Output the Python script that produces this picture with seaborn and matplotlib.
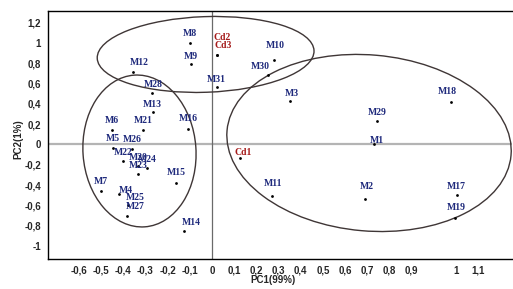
import numpy as np
import pandas as pd
import matplotlib.pyplot as plt
import seaborn as sns
from matplotlib.patches import Ellipse
from matplotlib.transforms import Affine2D

# sample scores
samples = ["M1", "M2", "M3", "M4", "M5", "M6", "M7", "M8", "M9", "M10",
           "M11", "M12", "M13", "M14", "M15", "M16", "M17", "M18", "M19", "M20",
           "M21", "M22", "M23", "M24", "M25", "M26", "M27", "M28", "M29", "M30",
           "M31", "Cd1", "Cd2", "Cd3"]
pc1 = [0.731, 0.689, 0.353, -0.418, -0.448, -0.452, -0.499, -0.099, -0.097, 0.279,
       0.272, -0.354, -0.267, -0.125, -0.164, -0.107, 1.102, 1.074, 1.095, -0.333,
       -0.309, -0.401, -0.332, -0.293, -0.378, -0.360, -0.384, -0.272, 0.742, 0.250,
       0.020, 0.128, 0.024, 0.024]
pc2 = [0.002, -0.537, 0.429, -0.491, -0.037, 0.143, -0.458, 1.000, 0.793, 0.837,
       -0.504, 0.714, 0.320, -0.849, -0.376, 0.156, -0.498, 0.422, -0.729, -0.212,
       0.143, -0.163, -0.291, -0.232, -0.596, -0.044, -0.701, 0.504, 0.229, 0.685,
       0.567, -0.136, 0.882, 0.882]
kind = ["M"] * 31 + ["Cd"] * 3

# group ellipses: centre (pc1, pc2), width in pc1 units, height in pc2 units, tilt in degrees
ell_x = [-0.029, -0.327, 0.707]
ell_y = [0.887, -0.064, 0.015]
ell_w = [0.977, 0.509, 1.284]
ell_h = [0.745, 1.498, 1.734]
ell_angle = [2, 4, -5]

# axis tick labels as printed on the original
xtick_pos = [-0.6, -0.5, -0.4, -0.3, -0.2, -0.1, 0, 0.1, 0.2, 0.3, 0.4, 0.5, 0.6, 0.7, 0.8, 0.9, 1.1, 1.2]
xtick_labels = ["-0,6", "-0,5", "-0,4", "-0,3", "-0,2", "-0,1", "0", "0,1", "0,2", "0,3",
                "0,4", "0,5", "0,6", "0,7", "0,8", "0,9", "1", "1,1"]
ytick_pos = [-1, -0.8, -0.6, -0.4, -0.2, 0, 0.2, 0.4, 0.6, 0.8, 1, 1.2]
ytick_labels = ["-1", "-0,8", "-0,6", "-0,4", "-0,2", "0", "0,2", "0,4", "0,6", "0,8", "1", "1,2"]

df = pd.DataFrame({"sample": samples, "pc1": pc1, "pc2": pc2, "kind": kind})

sns.set_style("white")
plt.rcParams["font.family"] = ["Liberation Sans", "DejaVu Sans"]

fig = plt.figure(figsize=(5.13, 2.89), dpi=100)
ax = fig.add_axes([48 / 513, 30 / 289, 464 / 513, 248 / 289])
xlim = (-0.739, 1.351)
ylim = (-1.128, 1.315)
ax.set_xlim(*xlim)
ax.set_ylim(*ylim)

ax.axhline(0, color="#b4b4b4", lw=1.6, zorder=1)
ax.axvline(0, color="#6a6a6a", lw=0.9, zorder=1)

# ellipses drawn in an isotropic frame so the tilt looks right on screen
bbox = ax.get_window_extent()
px_x = bbox.width / (xlim[1] - xlim[0])
px_y = bbox.height / (ylim[1] - ylim[0])
r = px_x / px_y
for cx, cy, w, h, a in zip(ell_x, ell_y, ell_w, ell_h, ell_angle):
    e = Ellipse((0, 0), w, h / r, angle=a, fill=False, ec="#3f3636", lw=1.0, zorder=2)
    e.set_transform(Affine2D().scale(1, r).translate(cx, cy) + ax.transData)
    ax.add_patch(e)

sns.scatterplot(data=df, x="pc1", y="pc2", color="black", s=4, linewidth=0, ax=ax, zorder=3)

# label nudges in pixels (dx, dy up), default sits just above the point
nudge = {"M12": (6, 10), "M4": (7, 4), "M25": (7, 7), "M27": (8, 9), "M14": (7, 8),
         "Cd2": (5, 17), "Cd3": (6, 9.5), "M30": (-7, 8), "M1": (3, 4), "Cd1": (3, 6),
         "M10": (1, 14), "M11": (1, 12), "M2": (2, 13), "M19": (1, 11), "M5": (0, 10),
         "M15": (1, 10), "M16": (0, 10), "M3": (1, 7), "M9": (0, 7), "M31": (0, 7),
         "M18": (-3, 10), "M28": (2, 9), "M13": (0, 8)}
for _, row in df.iterrows():
    dx, dy = nudge.get(row["sample"], (0, 9))
    col = "#a51a1a" if row["kind"] == "Cd" else "#1f2a7c"
    ax.annotate(row["sample"], (row["pc1"], row["pc2"]), xytext=(dx, dy),
                textcoords="offset pixels", ha="center", va="center",
                fontsize=7, fontweight="bold", color=col,
                family=["Liberation Serif", "DejaVu Serif"], zorder=4)

ax.set_xticks(xtick_pos)
ax.set_xticklabels(xtick_labels)
ax.set_yticks(ytick_pos)
ax.set_yticklabels(ytick_labels)
ax.tick_params(axis="both", length=0, labelsize=7)
ax.tick_params(axis="x", pad=5)
ax.tick_params(axis="y", pad=5)
for lab in ax.get_xticklabels() + ax.get_yticklabels():
    lab.set_fontweight("bold")

ax.set_xlabel("PC1(99%)", fontsize=7, fontweight="bold")
ax.set_ylabel("PC2(1%)", fontsize=7, fontweight="bold")
ax.xaxis.set_label_coords(0.485, -0.066)
ax.yaxis.set_label_coords(-0.052, 0.485)

for side in ["left", "bottom", "top"]:
    ax.spines[side].set_color("black")
    ax.spines[side].set_linewidth(1.0)
ax.spines["right"].set_visible(False)

fig.savefig("out.png", dpi=100)
